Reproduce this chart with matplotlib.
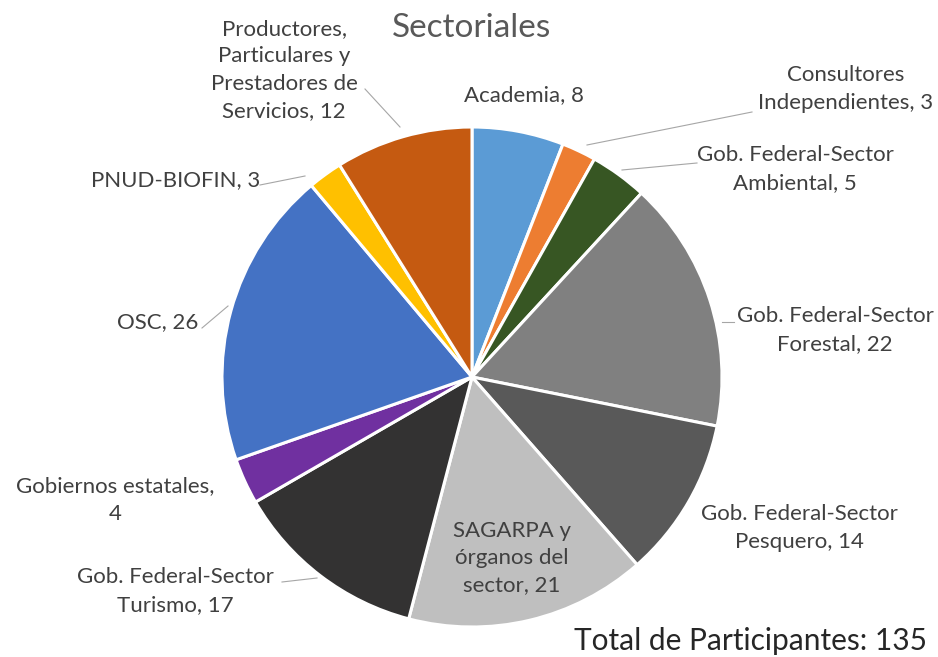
#!/usr/bin/env python3
import matplotlib

matplotlib.use("Agg")
import matplotlib.pyplot as plt

# Data (clockwise from 12 o'clock)
LABELS = [
    "Academia",
    "Consultores\nIndependientes",
    "Gob. Federal-Sector\nAmbiental",
    "Gob. Federal-Sector\nForestal",
    "Gob. Federal-Sector\nPesquero",
    "SAGARPA y\nórganos del\nsector",
    "Gob. Federal-Sector\nTurismo",
    "Gobiernos estatales,\n",
    "OSC",
    "PNUD-BIOFIN",
    "Productores,\nParticulares y\nPrestadores de\nServicios",
]
VALUES = [8, 3, 5, 22, 14, 21, 17, 4, 26, 3, 12]
COLORS = ["#5B9BD5", "#ED7D31", "#375623", "#808080", "#595959", "#BFBFBF",
          "#333232", "#7030A0", "#4472C4", "#FFC000", "#C55A11"]

TITLE = "Sectoriales"
TOTAL = "Total de Participantes: 135"

W, H = 938, 657
TEXT = "#404040"
FONT = ["Lato", "DejaVu Sans"]

# label centre in pixels (x, y from top), leader line (start, end) or None
LABEL_POS = [
    ((524, 95), None),
    ((846, 89), ((752, 112), (587, 145))),
    ((795, 169), ((697, 163), (622, 170))),
    ((835, 330), ((722, 322), (734, 322))),
    ((799, 528), None),
    ((512, 558), None),
    ((175, 591), ((282, 582), (317, 578))),
    ((115, 500), None),
    ((158, 322), ((202, 328), (228, 306))),
    ((176, 180), ((260, 185), (305, 176))),
    ((284, 70), ((365, 89), (400, 127))),
]


def px(x, y):
    return x, H - y


def main():
    fig = plt.figure(figsize=(W / 100, H / 100), dpi=100)
    ax = fig.add_axes([0, 0, 1, 1])

    ax.pie(
        VALUES,
        colors=COLORS,
        startangle=90,
        counterclock=False,
        center=px(472, 377),
        radius=250,
        wedgeprops=dict(edgecolor="white", linewidth=2.2),
        frame=True,
    )
    ax.set_xlim(0, W)
    ax.set_ylim(0, H)
    ax.set_aspect("equal")
    ax.axis("off")

    for lab, val, (pos, lead) in zip(LABELS, VALUES, LABEL_POS):
        if lab.endswith("\n"):
            txt = f"{lab}{val}"
        else:
            txt = f"{lab}, {val}"
        ax.text(*px(*pos), txt, ha="center", va="center", fontsize=16,
                color=TEXT, family=FONT, linespacing=1.45)
        if lead:
            (x0, y0), (x1, y1) = lead
            ax.plot([x0, x1], [H - y0, H - y1], color="#A6A6A6", linewidth=0.8)

    ax.text(*px(472, 28), TITLE, ha="center", va="center", fontsize=24,
            color="#595959", family=FONT)
    ax.text(*px(751, 641), TOTAL, ha="center", va="center", fontsize=21.5,
            color="#262626", family=FONT)

    fig.savefig("out.png", dpi=100)


if __name__ == "__main__":
    main()
